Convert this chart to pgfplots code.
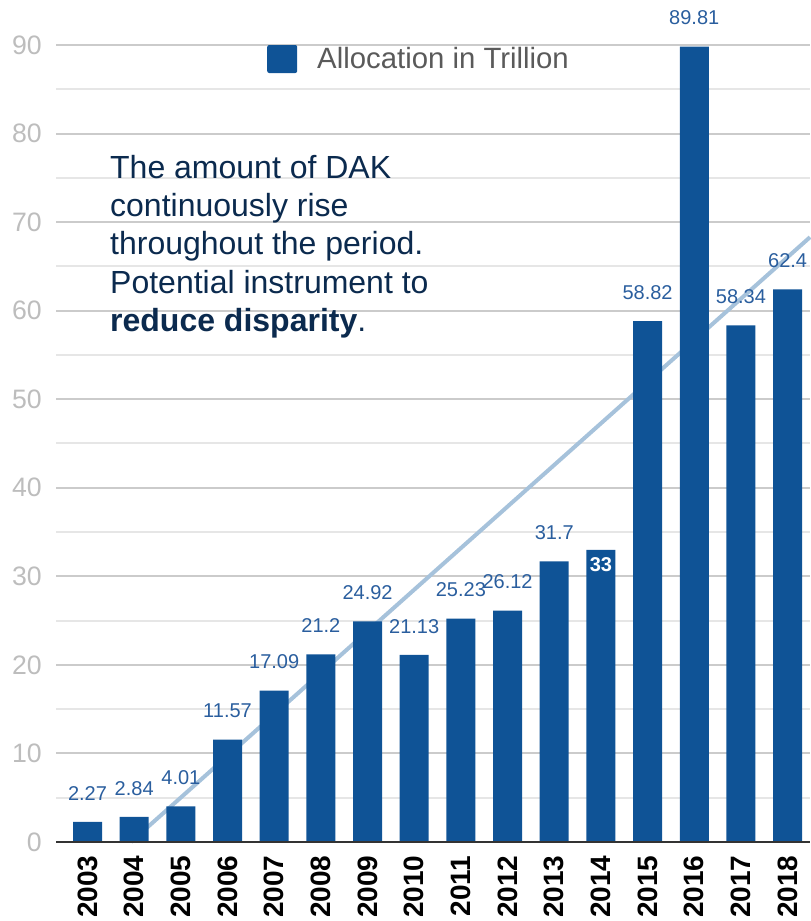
\documentclass[border=0pt]{standalone}
\usepackage{fontspec}
\setmainfont{Liberation Sans}
\usepackage{pgfplots}
\usepackage{pgfplotstable}
\pgfplotsset{compat=1.18}

\definecolor{barblue}{HTML}{0F5396}
\definecolor{labelblue}{HTML}{2A5E9E}
\definecolor{trendblue}{HTML}{A6C2DB}
\definecolor{majorgrid}{HTML}{CBCBCB}
\definecolor{minorgrid}{HTML}{E6E6E6}
\definecolor{tickgrey}{HTML}{BDBDBD}
\definecolor{legendgrey}{HTML}{5A5A5A}
\definecolor{notenavy}{HTML}{0B2A4E}

% DAK allocation per year (trillion); lab = printed value label
\pgfplotstableread{
x y lab
0 2.27 2.27
1 2.84 2.84
2 4.01 4.01
3 11.57 11.57
4 17.09 17.09
5 21.2 21.2
6 24.92 24.92
7 21.13 21.13
8 25.23 25.23
9 26.12 26.12
10 31.7 31.7
11 33 {}
12 58.82 58.82
13 89.81 89.81
14 58.34 58.34
15 62.4 62.4
}\dak

\begin{document}
\begin{tikzpicture}
\begin{axis}[
  scale only axis,
  width=565.5pt, height=597.75pt,
  xmin=-0.675, xmax=15.48,
  ymin=0, ymax=90,
  clip=false,
  axis line style={draw=none},
  xtick={0,...,15},
  xticklabels={2003,2004,2005,2006,2007,2008,2009,2010,2011,2012,2013,2014,2015,2016,2017,2018},
  xticklabel style={font=\fontsize{21}{21}\selectfont\bfseries, text=black,
    rotate=90, anchor=east, inner sep=0pt},
  xticklabel shift=10pt,
  ytick={0,10,...,90},
  minor y tick num=1,
  major tick length=0pt, minor tick length=0pt,
  ymajorgrids, yminorgrids,
  major grid style={majorgrid, line width=1.5pt},
  minor grid style={minorgrid, line width=1.5pt},
  yticklabel style={font=\fontsize{20}{20}\selectfont, text=tickgrey,
    inner xsep=0pt, xshift=-10.5pt},
  /pgf/number format/assume math mode=true,
  legend style={at={(0.2798,0.9824)}, anchor=west, draw=none, fill=none,
    inner sep=0pt, font=\fontsize{22}{22}\selectfont, text=legendgrey,
    /tikz/every odd column/.append style={column sep=13pt}},
  legend image code/.code={\fill[barblue, rounded corners=1.5pt] (0pt,-10.5pt) rectangle (22.5pt,10.5pt);},
]
% linear trend, drawn behind the bars
\addplot[trendblue, line width=3pt, forget plot] coordinates {(0.93,0) (15.48,68.3)};

\addplot[ybar, bar width=21.75pt, fill=barblue, draw=none,
  point meta=explicit symbolic, nodes near coords,
  nodes near coords style={font=\fontsize{15}{15}\selectfont, text=labelblue,
    anchor=south, inner sep=0pt, yshift=16pt}]
  table[x=x, y=y, meta=lab] {\dak};
\addlegendentry{Allocation in Trillion}

% label set inside the 2014 bar
\addplot[draw=none, mark=none, forget plot, point meta=explicit symbolic,
  nodes near coords,
  nodes near coords style={font=\fontsize{15}{15}\selectfont\bfseries, text=white,
    anchor=center, inner sep=0pt, yshift=-11.25pt}]
  coordinates {(11,33) [33]};

% baseline
\addplot[color=black!80, line width=1.8pt, forget plot] coordinates {(-0.675,0) (15.48,0)};

\node[anchor=north west, align=left, inner sep=0pt, text=notenavy,
  font=\fontsize{24}{28.7}\selectfont]
  at (axis cs:0.48,77.6)
  {The amount of DAK\\continuously rise\\throughout the period.\\Potential instrument to\\\textbf{reduce disparity}.};

\coordinate (bbsw) at (rel axis cs:0,0);
\coordinate (bbne) at (rel axis cs:1,1);
\end{axis}
\pgfresetboundingbox
\path[use as bounding box] ([shift={(-42pt,-59.25pt)}]bbsw) rectangle ([shift={(0pt,33.75pt)}]bbne);
\end{tikzpicture}
\end{document}
